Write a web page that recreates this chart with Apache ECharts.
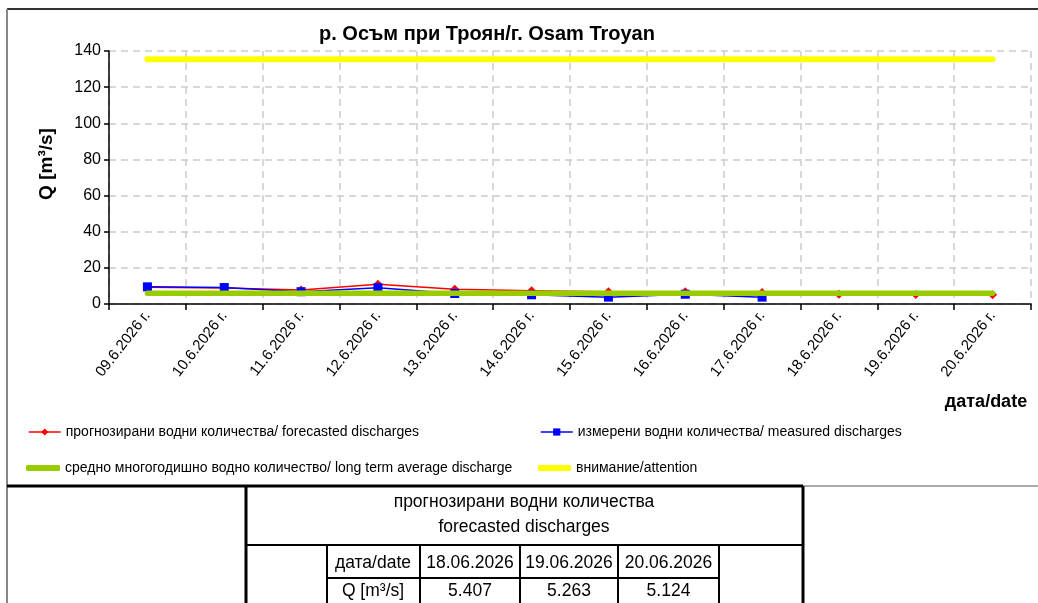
<!DOCTYPE html>
<html>
<head>
<meta charset="utf-8">
<script src="https://cdn.jsdelivr.net/npm/echarts@6/dist/echarts.min.js"></script>
<style>
html,body{margin:0;padding:0;background:#fff;}
#c{width:1038px;height:603px;}
</style>
</head>
<body>
<div id="c"></div>
<script>
var titleText = 'р. Осъм при Троян/г. Osam Troyan';
var categories = ['09.6.2026 г.','10.6.2026 г.','11.6.2026 г.','12.6.2026 г.','13.6.2026 г.','14.6.2026 г.','15.6.2026 г.','16.6.2026 г.','17.6.2026 г.','18.6.2026 г.','19.6.2026 г.','20.6.2026 г.'];
var forecast = [9.3, 8.9, 7.8, 10.9, 8.2, 7.4, 6.8, 6.8, 6.3, 5.407, 5.263, 5.124];
var measured = [9.5, 9.1, 6.8, 9.0, 5.8, 5.1, 3.8, 5.4, 3.8, null, null, null];
var longTermAvg = [6.0, 6.0, 6.0, 6.0, 6.0, 6.0, 6.0, 6.0, 6.0, 6.0, 6.0, 6.0];
var attention = [135.4, 135.4, 135.4, 135.4, 135.4, 135.4, 135.4, 135.4, 135.4, 135.4, 135.4, 135.4];
var seriesNames = ['прогнозирани водни количества/ forecasted discharges','измерени водни количества/ measured discharges','средно многогодишно водно количество/ long term average discharge','внимание/attention'];
var tableDates = ['18.06.2026','19.06.2026','20.06.2026'];
var tableValues = forecast.slice(9);
var yMin = 0, yMax = 140, yStep = 20;

var FF = 'Liberation Sans, Arial, sans-serif';
var chart = echarts.init(document.getElementById('c'), null, {renderer:'canvas'});

function line(x1,y1,x2,y2,w,c){return {type:'line',shape:{x1:x1,y1:y1,x2:x2,y2:y2},style:{stroke:c,lineWidth:w},z:100,silent:true};}
function txt(x,y,s,size,weight,align,rot){return {type:'text',x:x,y:y,rotation:rot||0,style:{text:s,font:(weight||'normal')+' '+size+'px '+FF,fill:'#000',align:align||'center',verticalAlign:'middle'},z:100,silent:true};}

var g = [];
// chart frame
g.push(line(7,9,1038,9,2,'#333'));
g.push(line(7,9,7,603,2,'#888'));
g.push(line(7,486,803,486,3,'#000'));
g.push(line(803,486,1038,486,2,'#aaa'));
// axis titles
g.push(txt(47,164,'Q [m³/s]',19,'bold','center',Math.PI/2));
g.push(txt(986,402,'дата/date',18,'bold','center'));
// table
var tL=246,tR=803,hB=545,rM=578;
g.push(line(tL,486,tL,603,3,'#000'));
g.push(line(tR,486,tR,603,3,'#000'));
g.push(line(tL,hB,tR,hB,2,'#000'));
var cols=[327,420,520,618,719];
cols.forEach(function(x){g.push(line(x,hB,x,603,2,'#000'));});
g.push(line(327,rM,719,rM,2,'#000'));
g.push(txt(524,502,'прогнозирани водни количества',17.5));
g.push(txt(524,527,'forecasted discharges',17.5));
g.push(txt(373,563,'дата/date',17.5));
g.push(txt(373,591,'Q [m³/s]',17.5));
for(var i=0;i<tableDates.length;i++){
  var cx=(cols[i+1]+cols[i+2])/2;
  g.push(txt(cx,563,tableDates[i],17.5));
  g.push(txt(cx,591,tableValues[i].toFixed(3),17.5));
}

function legendAt(item,left,top,lw,iw,ih){
  return {data:[item],left:left,top:top,itemWidth:iw,itemHeight:ih,itemGap:5,padding:0,
    textStyle:{fontFamily:FF,fontSize:14,color:'#000'},
    lineStyle:{width:lw},selectedMode:false};
}

var option = {
  animation:false,
  backgroundColor:'#fff',
  title:{text:titleText,left:482,top:19,textAlign:'center',textStyle:{fontFamily:FF,fontSize:20,fontWeight:'bold',color:'#000'}},
  legend:[
    legendAt(seriesNames[0],28,425,1.5,32,9),
    legendAt(seriesNames[1],540,425,1.5,32,9),
    legendAt({name:seriesNames[2],icon:'roundRect'},26,461,5,34,6),
    legendAt({name:seriesNames[3],icon:'roundRect'},538,461,5,33,6)
  ],
  grid:{left:109,right:7,top:51,bottom:299,containLabel:false},
  xAxis:{type:'category',data:categories,boundaryGap:true,
    axisLine:{lineStyle:{color:'#000',width:1.5}},
    axisTick:{show:true,inside:false,length:6,lineStyle:{color:'#000',width:1.5},alignWithLabel:false},
    axisLabel:{rotate:52,fontFamily:FF,fontSize:15,color:'#000',margin:9,interval:0},
    splitLine:{show:true,lineStyle:{color:'#cccccc',width:1.5,type:[7,5]}}
  },
  yAxis:{type:'value',min:yMin,max:yMax,interval:yStep,
    axisLine:{show:true,lineStyle:{color:'#000',width:1.5}},
    axisTick:{show:true,length:5,lineStyle:{color:'#000',width:1.5}},
    axisLabel:{fontFamily:FF,fontSize:16,color:'#000',margin:8},
    splitLine:{show:true,lineStyle:{color:'#cccccc',width:1.5,type:[7,5]}}
  },
  series:[
    {name:seriesNames[0],type:'line',data:forecast,z:2,symbol:'diamond',symbolSize:9,
     lineStyle:{color:'#ff0000',width:1.5},itemStyle:{color:'#ff0000'}},
    {name:seriesNames[1],type:'line',data:measured,z:3,symbol:'rect',symbolSize:9,connectNulls:false,
     lineStyle:{color:'#0000ff',width:1.5},itemStyle:{color:'#0000ff'}},
    {name:seriesNames[2],type:'line',data:longTermAvg,z:4,symbol:'none',
     lineStyle:{color:'#99cc00',width:5.5,cap:'round'},itemStyle:{color:'#99cc00'}},
    {name:seriesNames[3],type:'line',data:attention,z:5,symbol:'none',
     lineStyle:{color:'#ffff00',width:6,cap:'round'},itemStyle:{color:'#ffff00'}}
  ],
  graphic:g
};
chart.setOption(option);
</script>
</body>
</html>
